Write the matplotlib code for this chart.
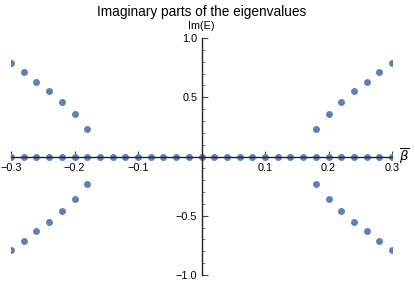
import matplotlib
matplotlib.use("Agg")
import matplotlib.pyplot as plt
from matplotlib.ticker import MultipleLocator, FixedLocator

plt.rcParams['font.family'] = ['Liberation Sans', 'DejaVu Sans']
plt.rcParams['mathtext.fontset'] = 'dejavusans'

beta_all = [-0.30, -0.28, -0.26, -0.24, -0.22, -0.20, -0.18, -0.16, -0.14, -0.12,
            -0.10, -0.08, -0.06, -0.04, -0.02, 0.00, 0.02, 0.04, 0.06, 0.08,
            0.10, 0.12, 0.14, 0.16, 0.18, 0.20, 0.22, 0.24, 0.26, 0.28, 0.30]
im_zero = [0.0] * len(beta_all)

beta_split = [-0.30, -0.28, -0.26, -0.24, -0.22, -0.20, -0.18,
              0.18, 0.20, 0.22, 0.24, 0.26, 0.28, 0.30]
im_upper = [0.785, 0.71, 0.63, 0.55, 0.46, 0.36, 0.23,
            0.23, 0.36, 0.46, 0.55, 0.63, 0.71, 0.785]
im_lower = [-0.785, -0.71, -0.63, -0.55, -0.46, -0.36, -0.23,
            -0.23, -0.36, -0.46, -0.55, -0.63, -0.71, -0.785]

xticks = [-0.3, -0.2, -0.1, 0.1, 0.2, 0.3]
xticklabels = ['\u22120.3', '\u22120.2', '\u22120.1', '0.1', '0.2', '0.3']
yticks = [-1.0, -0.5, 0.5, 1.0]
yticklabels = ['\u22121.0', '\u22120.5', '0.5', '1.0']

W, H = 415, 284
fig = plt.figure(figsize=(W / 100, H / 100), dpi=100)
ax = fig.add_axes([11 / W, 9 / H, (392 - 11) / W, (275 - 38) / H])

color = '#5E81B5'
ms = 25
ax.scatter(beta_all, im_zero, s=ms, color=color, zorder=2, linewidths=0)
ax.scatter(beta_split, im_upper, s=ms, color=color, zorder=2, linewidths=0)
ax.scatter(beta_split, im_lower, s=ms, color=color, zorder=2, linewidths=0)

ax.set_xlim(-0.3, 0.3)
ax.set_ylim(-1.0, 1.0)

for s in ['top', 'right']:
    ax.spines[s].set_visible(False)
ax.spines['left'].set_position(('data', 0))
ax.spines['bottom'].set_position(('data', 0))
for s in ['left', 'bottom']:
    ax.spines[s].set_linewidth(1.0)
    ax.spines[s].set_color('#222222')
    ax.spines[s].set_zorder(3)
    ax.spines[s].set_clip_on(False)

ax.xaxis.set_major_locator(FixedLocator(xticks))
ax.set_xticklabels(xticklabels)
ax.yaxis.set_major_locator(FixedLocator(yticks))
ax.set_yticklabels(yticklabels)
ax.xaxis.set_minor_locator(MultipleLocator(0.02))
ax.yaxis.set_minor_locator(MultipleLocator(0.1))

ax.tick_params(which='major', direction='in', length=4, width=0.8, color='#444444',
               labelsize=7.8, pad=3)
ax.tick_params(which='minor', direction='in', length=2, width=0.6, color='#666666')
ax.tick_params(axis='x', pad=5)

ax.annotate('Im(E)', xy=(0, 1.0), xytext=(0, 5), textcoords='offset points',
            ha='center', va='bottom', fontsize=7.8, annotation_clip=False)
ax.annotate(r'$\overline{\beta}$', xy=(0.3, 0), xytext=(5, 0), textcoords='offset points',
            ha='left', va='center', fontsize=9.5, annotation_clip=False)

ax.set_title('Imaginary parts of the eigenvalues', fontsize=9.8, pad=16)

fig.savefig('out.png', dpi=100)
